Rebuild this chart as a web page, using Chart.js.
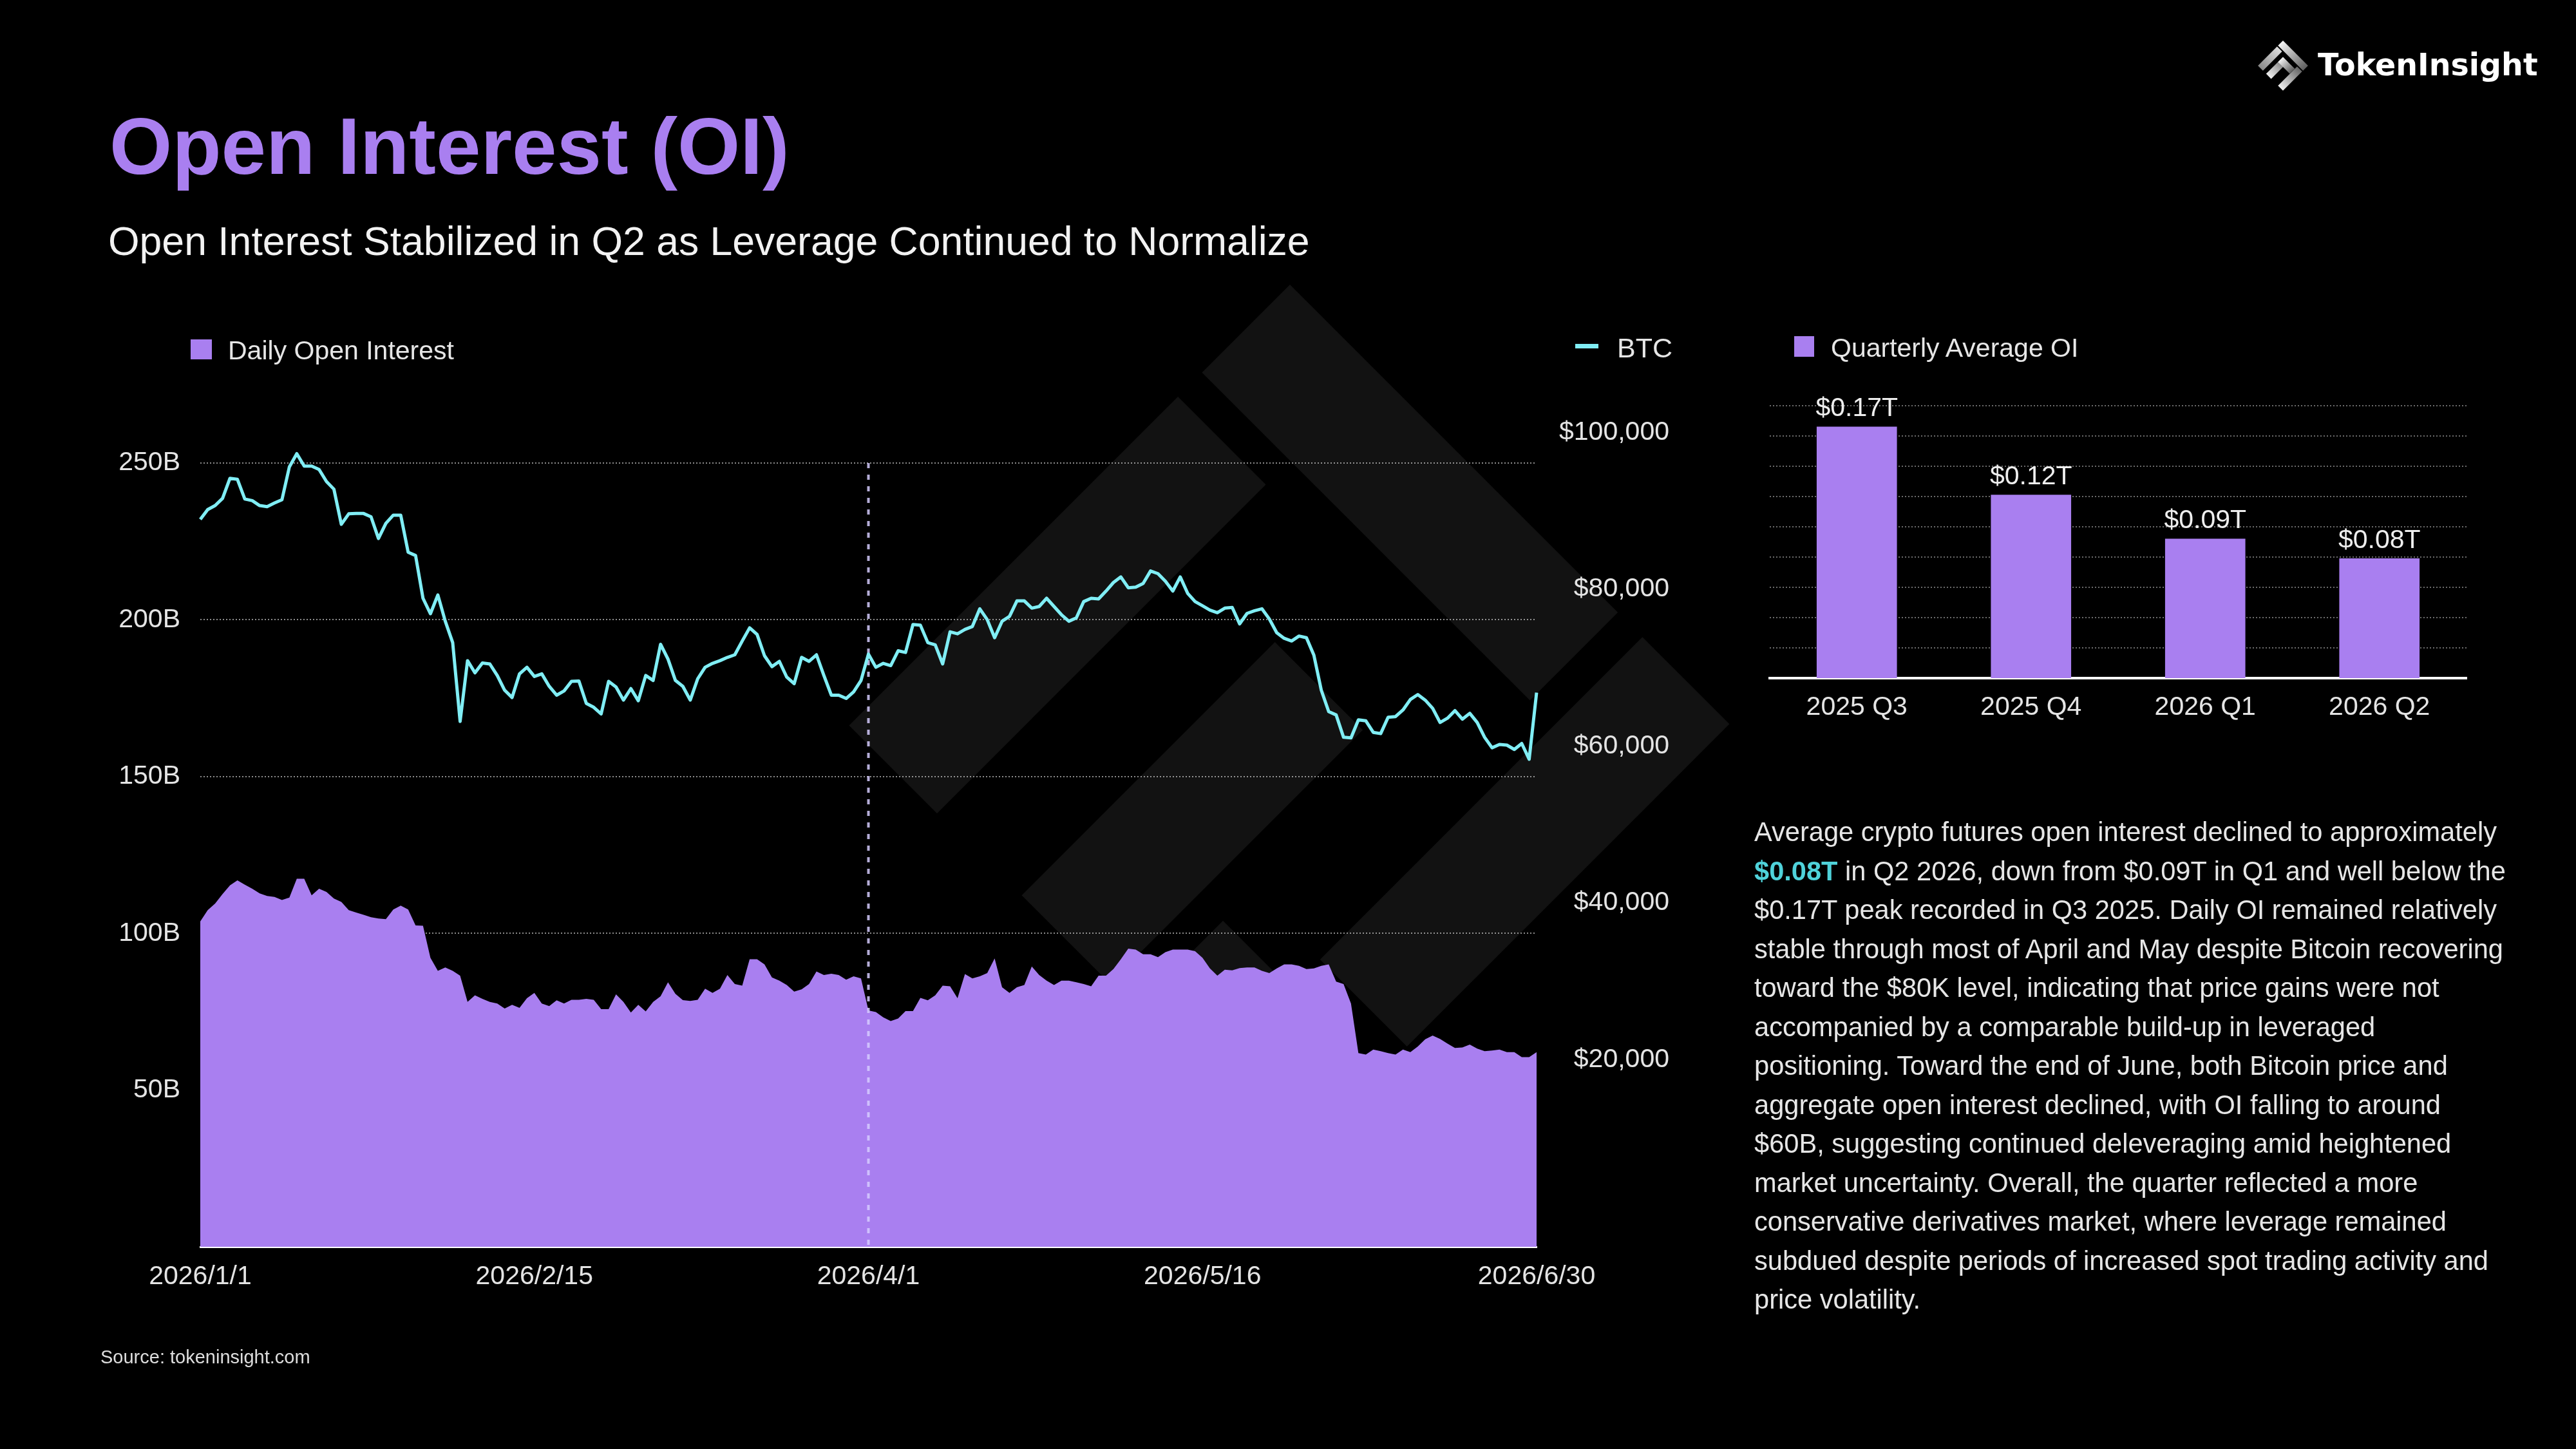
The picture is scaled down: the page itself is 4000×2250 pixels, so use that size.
<!DOCTYPE html>
<html><head><meta charset="utf-8">
<script src="https://cdn.jsdelivr.net/npm/chart.js@4.4.1/dist/chart.umd.min.js"></script>
<style>
html,body{margin:0;padding:0;background:#000;}
body{width:4000px;height:2250px;position:relative;overflow:hidden;font-family:'Liberation Sans',Arial,Helvetica,sans-serif;}
#bg,#fg{position:absolute;left:0;top:0;}
#fg{pointer-events:none;}
#mainWrap{position:absolute;left:0;top:600px;width:2592px;height:1450px;}
#barWrap{position:absolute;left:2700px;top:560px;width:1180px;height:600px;}
</style></head>
<body>
<svg id="bg" width="4000" height="2250">
  <g transform="translate(2003,442) rotate(45)" fill="#121212">
    <rect x="0" y="0" width="720" height="193"/>
    <rect x="774" y="0" width="191" height="708"/>
    <rect x="0" y="246" width="193" height="722"/>
    <rect x="376" y="409" width="193" height="556"/>
    <rect x="625" y="772" width="145" height="193"/>
  </g>
</svg>
<div id="mainWrap"><canvas id="main"></canvas></div>
<div id="barWrap"><canvas id="bar"></canvas></div>
<svg id="fg" width="4000" height="2250" font-family="'Liberation Sans', Arial, Helvetica, sans-serif">
  <defs>
    <linearGradient id="lg1" x1="0" y1="0" x2="1" y2="0"><stop offset="0" stop-color="#f4f4f4"/><stop offset="1" stop-color="#5e5e5e"/></linearGradient>
    <linearGradient id="lg2" x1="0" y1="0" x2="0" y2="1"><stop offset="0" stop-color="#666"/><stop offset="1" stop-color="#f0f0f0"/></linearGradient>
    <linearGradient id="lg3" x1="0" y1="0" x2="0" y2="1"><stop offset="0" stop-color="#dcdcdc"/><stop offset="1" stop-color="#8a8a8a"/></linearGradient>
  </defs>
  <text x="170" y="270" font-size="125" font-weight="bold" fill="#A97FF0">Open Interest (OI)</text>
  <text x="168" y="396" font-size="62.5" fill="#f2f2f2">Open Interest Stabilized in Q2 as Leverage Continued to Normalize</text>

  <rect x="296" y="527" width="33" height="31" fill="#A97FF0"/>
  <text x="354" y="558" font-size="41" fill="#e6e6e6">Daily Open Interest</text>

  <rect x="2446" y="534" width="36" height="7" fill="#80EEF5"/>
  <text x="2511" y="555" font-size="43" fill="#e6e6e6">BTC</text>

  <rect x="2786" y="522" width="31" height="32" fill="#A97FF0"/>
  <text x="2843" y="554" font-size="41" fill="#e6e6e6">Quarterly Average OI</text>

  <text x="2724" y="1306" font-size="41.6" fill="#e6e6e6">
    <tspan x="2724">Average crypto futures open interest declined to approximately</tspan>
    <tspan x="2724" dy="60.5"><tspan font-weight="bold" fill="#4FD2DA">$0.08T</tspan> in Q2 2026, down from $0.09T in Q1 and well below the</tspan>
    <tspan x="2724" dy="60.5">$0.17T peak recorded in Q3 2025. Daily OI remained relatively</tspan>
    <tspan x="2724" dy="60.5">stable through most of April and May despite Bitcoin recovering</tspan>
    <tspan x="2724" dy="60.5">toward the $80K level, indicating that price gains were not</tspan>
    <tspan x="2724" dy="60.5">accompanied by a comparable build-up in leveraged</tspan>
    <tspan x="2724" dy="60.5">positioning. Toward the end of June, both Bitcoin price and</tspan>
    <tspan x="2724" dy="60.5">aggregate open interest declined, with OI falling to around</tspan>
    <tspan x="2724" dy="60.5">$60B, suggesting continued deleveraging amid heightened</tspan>
    <tspan x="2724" dy="60.5">market uncertainty. Overall, the quarter reflected a more</tspan>
    <tspan x="2724" dy="60.5">conservative derivatives market, where leverage remained</tspan>
    <tspan x="2724" dy="60.5">subdued despite periods of increased spot trading activity and</tspan>
    <tspan x="2724" dy="60.5">price volatility.</tspan>
  </text>

  <text x="156" y="2117" font-size="29" fill="#dddddd">Source: tokeninsight.com</text>

  <g transform="translate(3545,63) rotate(45)">
    <rect x="0" y="0" width="55" height="11" fill="url(#lg1)"/>
    <rect x="44" y="13" width="11" height="42" fill="url(#lg2)"/>
    <rect x="0" y="13" width="11" height="42" fill="url(#lg3)"/>
    <rect x="18" y="18" width="11" height="37" fill="url(#lg2)"/>
    <rect x="18" y="18" width="26" height="11" fill="url(#lg1)"/>
  </g>
  <text x="3599" y="117" font-size="47.5" font-weight="bold" font-family="'DejaVu Sans', sans-serif" fill="#ffffff">TokenInsight</text>
</svg>
<script>
// ---------- data ----------
const dayCount = 181; // 2026/1/1 .. 2026/6/30
const dates = Array.from({length: dayCount}, (_, i) => {
  const d = new Date(Date.UTC(2026, 0, 1 + i));
  return d.getUTCFullYear() + '/' + (d.getUTCMonth() + 1) + '/' + d.getUTCDate();
});
const xTickLabels = ['2026/1/1', '2026/2/15', '2026/4/1', '2026/5/16', '2026/6/30'];
const markerDate = '2026/4/1';

// Daily open interest, billions USD
const oiValues = [
  103.8,107.4,109.5,112.5,115.3,116.9,115.5,114.2,112.7,111.9,
  111.6,110.6,111.4,117.4,117.4,112.1,114.2,113.2,111.1,110.0,
  107.4,106.6,105.9,105.1,104.7,104.5,107.6,108.8,107.6,102.5,
  102.4,92.2,88.0,89.1,88.0,86.5,78.1,80.2,79.1,78.1,
  77.6,76.0,77.2,76.2,79.3,81.0,77.6,76.8,78.6,77.6,
  78.8,78.8,79.1,78.8,75.8,75.8,80.5,78.1,74.7,77.2,
  75.1,78.1,79.9,84.4,80.7,78.7,78.4,78.8,82.3,81.0,
  82.3,86.7,83.8,83.3,91.7,91.7,90.1,85.9,84.9,83.5,
  81.4,82.1,83.8,87.8,86.7,87.1,86.7,85.2,86.3,85.6,
  75.4,74.9,73.2,72.0,72.8,75.2,75.2,79.4,78.6,80.2,
  83.3,83.1,79.3,87.0,85.6,86.3,87.3,92.0,82.8,81.0,
  82.8,83.5,89.4,86.7,84.9,83.5,84.9,84.9,84.4,83.8,
  83.1,86.5,86.5,88.6,91.7,95.1,94.8,93.3,93.3,92.4,
  94.0,94.8,94.8,94.8,94.3,92.2,88.8,86.5,88.4,88.2,
  88.9,89.1,89.1,88.0,87.3,88.8,90.1,90.1,89.6,88.6,
  88.8,89.6,90.1,84.6,83.8,77.6,61.8,61.3,62.9,62.4,
  61.8,61.3,62.9,62.1,63.9,66.2,67.4,66.3,64.8,63.4,
  63.6,64.5,63.2,62.4,62.6,62.9,62.1,62.1,60.5,60.5,
  62.1
];

// BTC price, USD
const btcValues = [
  88920,90170,90680,91600,94160,94030,91520,91310,90680,90550,
  91010,91430,95620,97300,95710,95710,95290,93740,92770,88290,
  89630,89670,89670,89250,86490,88420,89460,89460,84730,84310,
  78860,76890,79280,75930,73200,63150,70900,69350,70610,70480,
  69010,67130,66200,69220,70060,68890,69220,67630,66500,67040,
  68260,68300,65450,64950,64110,68260,67550,65870,67340,65790,
  69010,68380,72990,71110,68380,67630,65870,68590,70060,70560,
  70900,71320,71650,73410,75090,74250,71530,70140,70810,68800,
  67960,71320,70810,71650,69010,66500,66500,66080,66920,68380,
  71740,70060,70560,70270,72160,71950,75510,75420,73200,72910,
  70480,74580,74330,74880,75260,77520,76140,73830,75930,76550,
  78520,78520,77600,77810,78860,77810,76760,75930,76350,78440,
  78860,78780,79780,80870,81580,80200,80280,80750,82340,82000,
  81040,79780,81580,79490,78440,77900,77350,77020,77600,77690,
  75590,76930,77270,77520,76220,74460,73750,73410,74040,73830,
  71610,67130,64400,63980,61130,61050,63360,63230,61760,61600,
  63690,63770,64610,65950,66580,65870,64820,63020,63570,64530,
  63440,64190,63020,61130,59790,60210,60130,59580,60340,58330,
  66830
];

const oiTicks = [50, 100, 150, 200, 250];
const btcTicks = [20000, 40000, 60000, 80000, 100000];

const quarters = ['2025 Q3', '2025 Q4', '2026 Q1', '2026 Q2'];
const quarterAvg = [0.166, 0.121, 0.092, 0.079]; // trillions USD
const barGridTicks = [0.02, 0.04, 0.06, 0.08, 0.10, 0.12, 0.14, 0.16, 0.18];

// ---------- styles ----------
const PURPLE = '#A97FF0';
const CYAN = '#80EEF5';
const TEXT = '#e4e4e4';
Chart.defaults.font.family = "'Liberation Sans', Arial, Helvetica, sans-serif";
Chart.defaults.font.size = 41;
Chart.defaults.color = TEXT;

const markerPlugin = {
  id: 'marker',
  beforeDatasetDraw(chart, args) {
    if (args.index !== 1) return;
    const ctx = chart.ctx;
    const x = chart.scales.x.getPixelForValue(dates.indexOf(markerDate));
    const yTop = chart.scales.yL.getPixelForValue(oiTicks[oiTicks.length - 1]);
    const yBot = chart.chartArea.bottom;
    ctx.save();
    ctx.strokeStyle = 'rgba(214,204,255,0.85)';
    ctx.lineWidth = 4;
    ctx.setLineDash([8, 10]);
    ctx.beginPath();
    ctx.moveTo(x, yTop);
    ctx.lineTo(x, yBot);
    ctx.stroke();
    ctx.restore();
  }
};

new Chart(document.getElementById('main'), {
  type: 'line',
  data: {
    labels: dates,
    datasets: [
      { label: 'Daily Open Interest', data: oiValues, yAxisID: 'yL', fill: 'origin',
        backgroundColor: PURPLE, borderColor: PURPLE, borderWidth: 0, pointRadius: 0, order: 2, tension: 0 },
      { label: 'BTC', data: btcValues, yAxisID: 'yR', fill: false, borderColor: CYAN,
        borderWidth: 5, pointRadius: 0, order: 1, tension: 0, borderJoinStyle: 'round', clip: false }
    ]
  },
  options: {
    responsive: true, maintainAspectRatio: false, animation: false, devicePixelRatio: 1,
    layout: { padding: 0 },
    plugins: { legend: { display: false }, tooltip: { enabled: false } },
    scales: {
      x: {
        type: 'category', offset: false,
        grid: { display: false, drawTicks: false },
        border: { display: true, color: '#ffffff', width: 3 },
        ticks: { autoSkip: false, maxRotation: 0, minRotation: 0, padding: 22, color: TEXT, font: { size: 41 } },
        afterBuildTicks: s => { s.ticks = s.ticks.filter(t => xTickLabels.includes(dates[t.value])); },
        afterFit: s => { s.height = 114; s.paddingLeft = 0; s.paddingRight = 0; }
      },
      yL: {
        type: 'linear', position: 'left', min: 0, max: 274.44,
        afterBuildTicks: s => { s.ticks = oiTicks.map(v => ({ value: v })); },
        ticks: { padding: 31, color: TEXT, font: { size: 41 }, callback: v => v + 'B' },
        grid: { color: 'rgba(255,255,255,0.55)', lineWidth: 2, drawTicks: false },
        border: { display: false, dash: [2, 3] },
        afterFit: s => { s.width = 311; s.paddingTop = 0; s.paddingBottom = 0; }
      },
      yR: {
        type: 'linear', position: 'right', min: -3852, max: 105881,
        afterBuildTicks: s => { s.ticks = btcTicks.map(v => ({ value: v })); },
        ticks: { padding: 32, crossAlign: 'far', color: TEXT, font: { size: 41 },
                 callback: v => '$' + Number(v).toLocaleString('en-US') },
        grid: { display: false, drawTicks: false },
        border: { display: false },
        afterFit: s => { s.width = 206; s.paddingTop = 0; s.paddingBottom = 0; }
      }
    }
  },
  plugins: [markerPlugin]
});

const barLabelPlugin = {
  id: 'barLabels',
  afterDatasetsDraw(chart) {
    const ctx = chart.ctx;
    const meta = chart.getDatasetMeta(0);
    ctx.save();
    ctx.fillStyle = '#eeeeee';
    ctx.font = "41px 'Liberation Sans', Arial, Helvetica, sans-serif";
    ctx.textAlign = 'center';
    ctx.textBaseline = 'middle';
    meta.data.forEach((bar, i) => {
      ctx.fillText('$' + quarterAvg[i].toFixed(2) + 'T', bar.x, bar.y - 28);
    });
    ctx.restore();
  }
};

new Chart(document.getElementById('bar'), {
  type: 'bar',
  data: {
    labels: quarters,
    datasets: [{ label: 'Quarterly Average OI', data: quarterAvg, backgroundColor: PURPLE, barThickness: 124 }]
  },
  options: {
    responsive: true, maintainAspectRatio: false, animation: false, devicePixelRatio: 1,
    layout: { padding: { top: 70, right: 50, left: 0, bottom: 0 } },
    plugins: { legend: { display: false }, tooltip: { enabled: false } },
    scales: {
      x: {
        grid: { display: false, drawTicks: false },
        border: { display: true, color: '#ffffff', width: 4 },
        ticks: { padding: 21, color: TEXT, font: { size: 41 } },
        afterFit: s => { s.height = 107; s.paddingLeft = 0; s.paddingRight = 0; }
      },
      y: {
        min: 0, max: 0.18,
        afterBuildTicks: s => { s.ticks = barGridTicks.map(v => ({ value: v })); },
        ticks: { display: false },
        grid: { color: 'rgba(255,255,255,0.42)', lineWidth: 2, drawTicks: false },
        border: { display: false, dash: [2, 3] },
        afterFit: s => { s.width = 48; s.paddingTop = 0; s.paddingBottom = 0; }
      }
    }
  },
  plugins: [barLabelPlugin]
});
</script>
</body></html>
